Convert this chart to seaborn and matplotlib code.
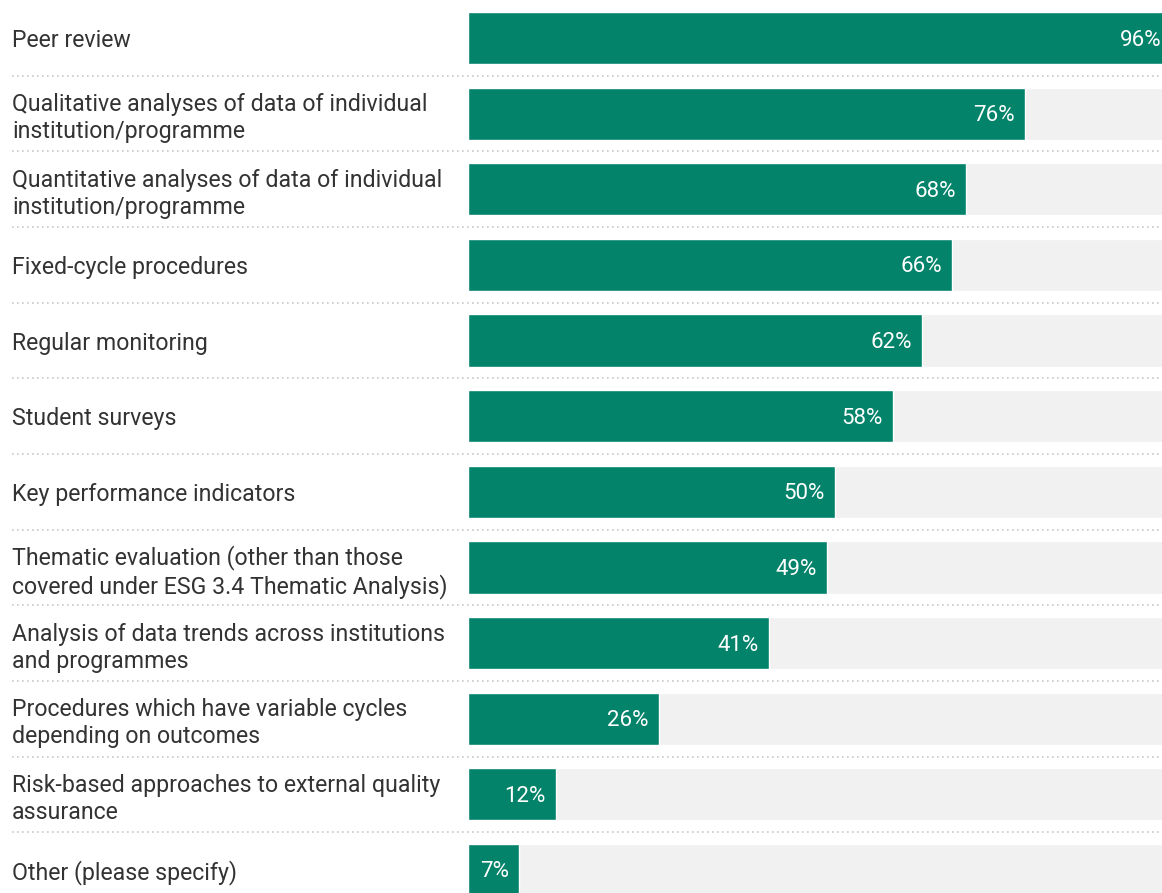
import matplotlib
matplotlib.use("Agg")
import matplotlib.pyplot as plt
import matplotlib.transforms as mtransforms
import seaborn as sns
import pandas as pd

categories = [
    "Peer review",
    "Qualitative analyses of data of individual\ninstitution/programme",
    "Quantitative analyses of data of individual\ninstitution/programme",
    "Fixed-cycle procedures",
    "Regular monitoring",
    "Student surveys",
    "Key performance indicators",
    "Thematic evaluation (other than those\ncovered under ESG 3.4 Thematic Analysis)",
    "Analysis of data trends across institutions\nand programmes",
    "Procedures which have variable cycles\ndepending on outcomes",
    "Risk-based approaches to external quality\nassurance",
    "Other (please specify)",
]
shares = [96, 76, 68, 66, 62, 58, 50, 49, 41, 26, 12, 7]
full_scale = [100] * len(categories)

GREEN = "#02836a"
TRACK = "#f1f1f1"
TEXT = "#333333"

sns.set_theme(style="white")
plt.rcParams["font.family"] = ["Roboto", "DejaVu Sans"]

df = pd.DataFrame({"category": categories, "share": shares, "full": full_scale})

W, H = 1162, 893
fig = plt.figure(figsize=(W / 100, H / 100), dpi=100)
fig.patch.set_facecolor("white")

# plot area: bars start at x=468 px, 100% lands just past the right edge
x0, x100 = 468, 1201
y_top, y_bot = 0.2, 907.8
ax = fig.add_axes([x0 / W, 1 - y_bot / H, (x100 - x0) / W, (y_bot - y_top) / H])
ax.set_facecolor("none")

sns.barplot(data=df, x="full", y="category", color=TRACK, width=0.69,
            saturation=1, ax=ax, orient="h")
sns.barplot(data=df, x="share", y="category", color=GREEN, width=0.69,
            saturation=1, ax=ax, orient="h")

ax.set_xlim(0, 100)
ax.set_ylim(len(categories) - 0.5, -0.5)
ax.set_xlabel("")
ax.set_ylabel("")
ax.set_xticks([])
for s in ax.spines.values():
    s.set_visible(False)

# category labels, left-aligned at the figure's left margin
ax.set_yticks(range(len(categories)))
ax.set_yticklabels(categories)
pad_pts = (x0 - 12) * 72 / 100
ax.tick_params(axis="y", length=0, pad=pad_pts, labelsize=16.7, labelcolor=TEXT)
for lbl in ax.get_yticklabels():
    lbl.set_horizontalalignment("left")
    lbl.set_linespacing(1.22)

# value labels inside the bar ends
offset = mtransforms.offset_copy(ax.transData, fig=fig, x=-10 * 72 / 100,
                                 y=-2 * 72 / 100, units="points")
for i, v in enumerate(shares):
    ax.text(v, i, f"{v}%", transform=offset, ha="right", va="center",
            color="white", fontsize=16)

# dotted separators between rows, spanning the label column too
xmin = (12 - x0) / (x100 - x0)
for i in range(len(categories) - 1):
    ax.axhline(i + 0.5, xmin=xmin, xmax=1, color="#c8c8c8", lw=1.2,
               ls=(0, (1, 2)), clip_on=False)

fig.savefig("out.png", dpi=100)
